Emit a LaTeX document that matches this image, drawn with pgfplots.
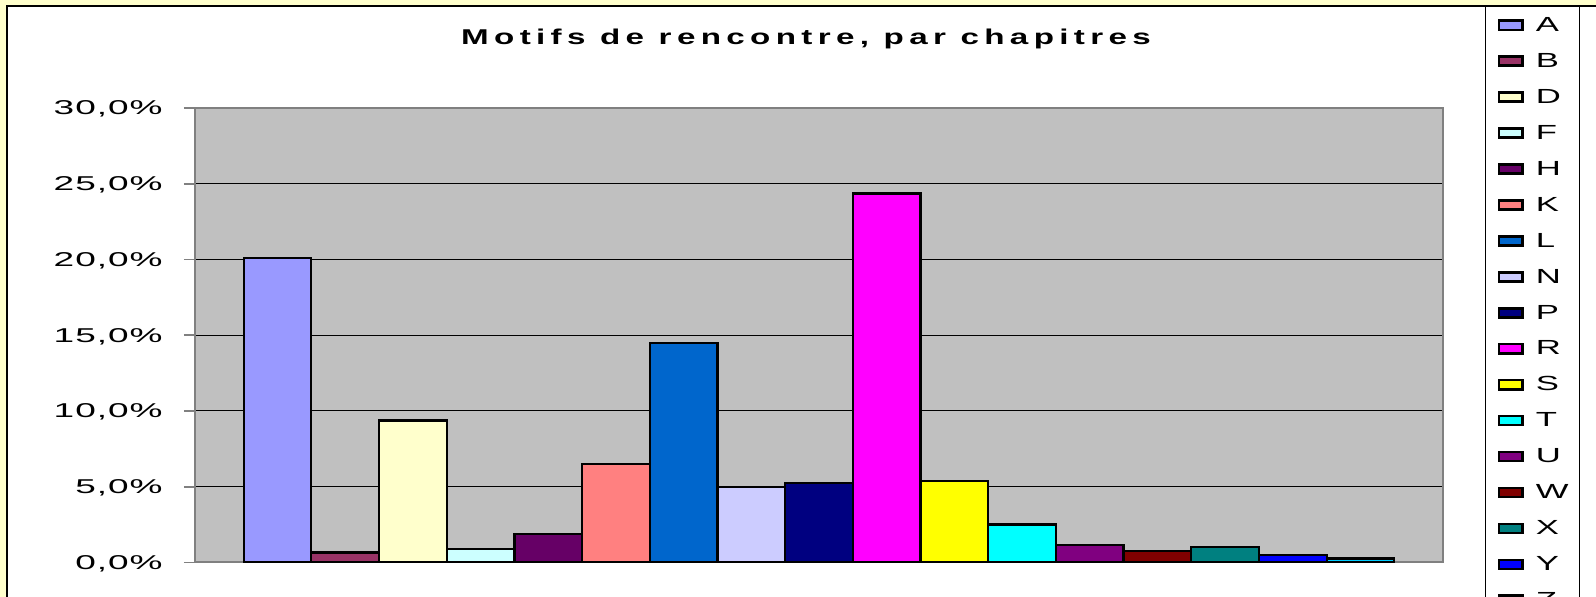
\documentclass[border=0pt]{standalone}
\usepackage{pgfplots}
\pgfplotsset{compat=1.18}
\usepackage{fontspec}
\setmainfont{Liberation Sans}
\newfontfamily\tickfont[FakeStretch=1.85,LetterSpace=5]{Liberation Sans}
\newfontfamily\legfont[FakeStretch=1.7]{Liberation Sans}
\newfontfamily\titlefont[FakeStretch=1.55,LetterSpace=25]{Liberation Sans}

% Excel default series colours
\definecolor{cA}{HTML}{9999FF}
\definecolor{cB}{HTML}{993366}
\definecolor{cD}{HTML}{FFFFCC}
\definecolor{cF}{HTML}{CCFFFF}
\definecolor{cH}{HTML}{660066}
\definecolor{cK}{HTML}{FF8080}
\definecolor{cL}{HTML}{0066CC}
\definecolor{cN}{HTML}{CCCCFF}
\definecolor{cP}{HTML}{000080}
\definecolor{cR}{HTML}{FF00FF}
\definecolor{cS}{HTML}{FFFF00}
\definecolor{cT}{HTML}{00FFFF}
\definecolor{cU}{HTML}{800080}
\definecolor{cW}{HTML}{800000}
\definecolor{cX}{HTML}{008080}
\definecolor{cY}{HTML}{0000FF}
\definecolor{cZ}{HTML}{00CCFF}
\definecolor{cream}{HTML}{FFFFCC}
\definecolor{plotgray}{HTML}{C0C0C0}
\definecolor{edge}{HTML}{808080}

\begin{document}
\begin{tikzpicture}
\useasboundingbox (0,0) rectangle (798pt,298.5pt);
\clip (0,0) rectangle (798pt,298.5pt);
\fill[cream] (0,0) rectangle (798pt,298.5pt);
\draw[black, line width=0.6pt, fill=white] (3.5pt,-20pt) rectangle (820pt,295.5pt);
\begin{axis}[
    at={(97.5pt,17.25pt)}, anchor=south west,
    scale only axis, width=624pt, height=227.25pt,
    ybar=0pt, bar width=33.84pt,
    xmin=-0.5, xmax=0.5, xtick=\empty,
    ymin=0, ymax=30,
    ytick={0,5,10,15,20,25,30},
    yticklabels={{0,0\%},{5,0\%},{10,0\%},{15,0\%},{20,0\%},{25,0\%},{30,0\%}},
    yticklabel style={font=\tickfont\fontsize{10}{10}\selectfont, anchor=east,
        inner sep=0pt, text height=7pt, text depth=0pt, xshift=-10.5pt},
    ytick pos=left, tick align=outside, major tick length=5.5pt,
    tick style={draw=edge, line width=0.8pt},
    axis line style={draw=edge, line width=1pt},
    axis background/.style={fill=plotgray},
    ymajorgrids, grid style={draw=black, line width=0.5pt},
    title={Motifs de rencontre, par chapitres},
    every axis title shift=0pt,
    title style={at={(0.4896,1.157)}, anchor=center, inner sep=0pt, yshift=0pt,
        font=\titlefont\bfseries\fontsize{10.7}{11}\selectfont,
        text height=7.66pt, text depth=0pt},
    every axis plot/.append style={draw=black, line width=1.1pt},
    every axis plot post/.append style={legend image code/.code={
        \path (0pt,0pt) (18.5pt,7pt);
        \draw[##1, line width=1.3pt, overlay] (0.65pt,-2.65pt) rectangle (12.35pt,1.9pt);}},
    legend cell align=left,
    legend style={at={(1.0337,1.2244)}, anchor=north west, draw=black,
        line width=0.6pt, fill=white, inner xsep=5.5pt, inner ysep=1.4pt,
        row sep=6.92pt,
        font=\legfont\fontsize{10.2}{10}\selectfont,
        nodes={inner sep=0pt, text height=7pt, text depth=0pt}},
]
\addplot[fill=cA] coordinates {(0,20.1)};  \addlegendentry{A}
\addplot[fill=cB] coordinates {(0,0.66)};  \addlegendentry{B}
\addplot[fill=cD] coordinates {(0,9.37)};  \addlegendentry{D}
\addplot[fill=cF] coordinates {(0,0.87)};  \addlegendentry{F}
\addplot[fill=cH] coordinates {(0,1.9)};   \addlegendentry{H}
\addplot[fill=cK] coordinates {(0,6.52)};  \addlegendentry{K}
\addplot[fill=cL] coordinates {(0,14.5)};  \addlegendentry{L}
\addplot[fill=cN] coordinates {(0,5.0)};   \addlegendentry{N}
\addplot[fill=cP] coordinates {(0,5.25)};  \addlegendentry{P}
\addplot[fill=cR] coordinates {(0,24.36)}; \addlegendentry{R}
\addplot[fill=cS] coordinates {(0,5.37)};  \addlegendentry{S}
\addplot[fill=cT] coordinates {(0,2.51)};  \addlegendentry{T}
\addplot[fill=cU] coordinates {(0,1.13)};  \addlegendentry{U}
\addplot[fill=cW] coordinates {(0,0.76)};  \addlegendentry{W}
\addplot[fill=cX] coordinates {(0,1.0)};   \addlegendentry{X}
\addplot[fill=cY] coordinates {(0,0.52)};  \addlegendentry{Y}
\addplot[fill=cZ] coordinates {(0,0.26)};  \addlegendentry{Z}
\end{axis}
\end{tikzpicture}
\end{document}
